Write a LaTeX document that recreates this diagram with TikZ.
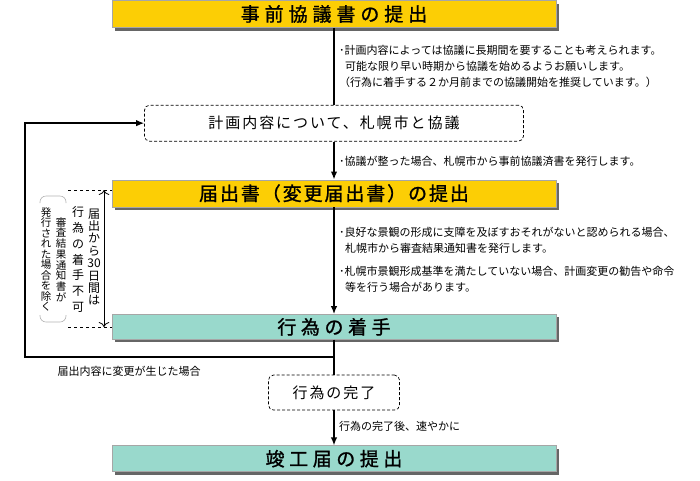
\documentclass[tikz,border=0pt]{standalone}
\usepackage{fontspec}
\setmainfont{Noto Sans CJK JP}
\usetikzlibrary{positioning,shadows,arrows.meta}
\definecolor{boxyellow}{HTML}{FCCE05}
\definecolor{boxteal}{HTML}{99D9CC}
\newcommand{\tr}[1]{\addfontfeatures{LetterSpace=#1}}

\begin{document}
\begin{tikzpicture}[x=1pt,y=1pt,node distance=35pt,
    yellow box/.style={draw=gray!70,line width=0.6pt,fill=boxyellow,minimum width=444pt,minimum height=27pt,inner sep=0pt,
        drop shadow={shadow xshift=3pt,shadow yshift=-3pt,fill=black!60,opacity=1},font=\fontsize{19}{19}\selectfont\addfontfeatures{FakeBold=1.2}},
    teal box/.style={yellow box,fill=boxteal},
    talk box/.style={draw,dashed,dash pattern=on 3pt off 2pt,rounded corners=5pt,line width=0.7pt,inner sep=0pt,font=\fontsize{15}{15}\selectfont},
    note/.style={anchor=west,align=left,inner sep=0pt,font=\fontsize{11}{16}\selectfont},
    tate/.style={align=center,inner sep=0pt},
    flow/.style={line width=1.4pt},
    go/.style={flow,-{Latex[length=8pt,width=6.5pt]}},
    bracket/.style={draw=gray!60,line width=0.6pt,rounded corners=6pt}]

    \useasboundingbox (0,0) rectangle (700,-480);

		\node[yellow box](b1) at (334,-14){\tr{26}事前協議書の提出};
		\node[talk box,minimum width=379pt,minimum height=36pt](b2)[below=77pt of b1]{\tr{13}計画内容について、札幌市と協議};
		\node[yellow box](b3)[below=38pt of b2]{\tr{10}届出書（変更届出書）の提出};
		\node[teal box,minimum height=25pt](b4)[below=107pt of b3]{\tr{24}行為の着手};
		\node[talk box,minimum width=131pt,minimum height=35pt](b5)[below=35pt of b4]{\tr{13}行為の完了};
		\node[teal box,minimum height=26pt](b6)[below=35pt of b5]{\tr{24}竣工届の提出};

		\node[note](n1) at (339,-66){･計画内容によっては協議に長期間を要することも考えられます。\\
		    \hspace*{6pt}可能な限り早い時期から協議を始めるようお願いします。\\
		    （行為に着手する２か月前までの協議開始を推奨しています。）};
		\node[note](n2) at (339,-161){･協議が整った場合、札幌市から事前協議済書を発行します。};
		\node[note](n3) at (339,-260){･良好な景観の形成に支障を及ぼすおそれがないと認められる場合、\\
		    \hspace*{6pt}札幌市から審査結果通知書を発行します。\\[7pt]
		    ･札幌市景観形成基準を満たしていない場合、計画変更の勧告や命令\\
		    \hspace*{6pt}等を行う場合があります。};
		\node[note](n4) at (339,-426){行為の完了後、速やかに};
		\node[note,anchor=center](n5) at (129,-371){届出内容に変更が生じた場合};

		\node[tate,font=\fontsize{12}{12.4}\selectfont](t1) at (94,-257){届\\出\\か\\ら\\30\\日\\間\\は};
		\node[tate,font=\fontsize{12}{15.8}\selectfont](t2) at (78,-259.5){行\\為\\の\\着\\手\\不\\可};
		\node[tate,font=\fontsize{10.5}{10.7}\selectfont](t3) at (61,-259.5){審\\査\\結\\果\\通\\知\\書\\が};
		\node[tate,font=\fontsize{10.5}{10.5}\selectfont](t4) at (46,-259.5){発\\行\\さ\\れ\\た\\場\\合\\を\\除\\く};

		\coordinate (c1) at (334,-357);
		\coordinate (c2) at (25,-357);
		\coordinate (d1) at (68,-190);
		\coordinate (d2) at (68,-327);
		\coordinate (a1) at (104,-190);
		\coordinate (a2) at (104,-327);

		\path (b1) edge[flow] (b2);
		\path (b2) edge[go] (b3);
		\path (b3) edge[go] (b4);
		\path (b4) edge[flow] (b5);
		\path (b5) edge[go] (b6);
		\draw[go] (c1) -- (c2) |- (b2.west);

		\draw[dashed,line width=0.7pt] (d1) -- (d1 -| b3.west);
		\draw[dashed,line width=0.7pt] (d2) -- (d2 -| b4.west);
		\draw[line width=0.8pt,{To[length=5pt]}-{To[length=5pt]}] (a1) -- (a2);

		% bracket round the note
		\draw[bracket] (40,-203) -- (40,-196) -- (66,-196) -- (66,-203);
		\draw[bracket] (40,-315) -- (40,-322) -- (66,-322) -- (66,-315);

	\end{tikzpicture}
\end{document}
